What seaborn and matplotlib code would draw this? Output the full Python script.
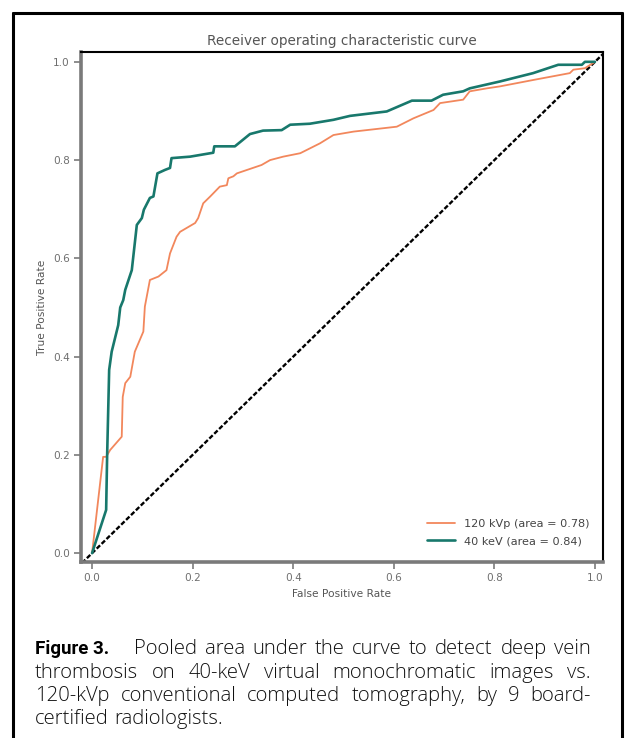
import matplotlib
matplotlib.use("Agg")
import matplotlib.pyplot as plt
from matplotlib.lines import Line2D
import pandas as pd
import seaborn as sns

# --- data ---
fpr_40kev = [0.0, 0.028, 0.030, 0.034, 0.039, 0.052, 0.056, 0.062, 0.066, 0.079, 0.089,
             0.099, 0.103, 0.115, 0.122, 0.130, 0.145, 0.155, 0.158, 0.195, 0.241, 0.243,
             0.284, 0.314, 0.340, 0.377, 0.394, 0.433, 0.480, 0.513, 0.586, 0.636, 0.675,
             0.698, 0.738, 0.751, 0.811, 0.877, 0.927, 0.974, 0.980, 1.0]
tpr_40kev = [0.0, 0.088, 0.20, 0.373, 0.41, 0.464, 0.50, 0.515, 0.536, 0.576, 0.668,
             0.682, 0.699, 0.723, 0.726, 0.773, 0.780, 0.784, 0.804, 0.807, 0.815, 0.828,
             0.828, 0.853, 0.860, 0.861, 0.872, 0.874, 0.882, 0.890, 0.899, 0.921, 0.921,
             0.933, 0.940, 0.946, 0.960, 0.977, 0.994, 0.994, 1.0, 1.0]

fpr_120kvp = [0.0, 0.022, 0.028, 0.036, 0.059, 0.061, 0.066, 0.076, 0.085, 0.102, 0.105,
              0.115, 0.132, 0.148, 0.155, 0.168, 0.175, 0.205, 0.211, 0.221, 0.235, 0.254,
              0.268, 0.271, 0.281, 0.288, 0.337, 0.354, 0.380, 0.414, 0.453, 0.480, 0.520,
              0.606, 0.639, 0.679, 0.692, 0.738, 0.751, 0.785, 0.811, 0.877, 0.950, 0.957,
              0.980, 1.0]
tpr_120kvp = [0.0, 0.196, 0.196, 0.210, 0.237, 0.318, 0.346, 0.359, 0.410, 0.451, 0.502,
              0.556, 0.563, 0.576, 0.610, 0.644, 0.654, 0.672, 0.682, 0.712, 0.726, 0.746,
              0.749, 0.763, 0.767, 0.773, 0.790, 0.800, 0.807, 0.814, 0.834, 0.851, 0.858,
              0.868, 0.885, 0.902, 0.916, 0.923, 0.940, 0.946, 0.950, 0.963, 0.977, 0.984,
              0.987, 1.0]

chance = [-0.02, 1.02]

labels = ["120 kVp (area = 0.78)", "40 keV (area = 0.84)"]
title = "Receiver operating characteristic curve"
x_ticks = [0.0, 0.2, 0.4, 0.6, 0.8, 1.0]
y_ticks = [0.0, 0.2, 0.4, 0.6, 0.8, 1.0]

caption_head = "Figure 3."
caption_lines = [
    "Pooled area under the curve to detect deep vein",
    "thrombosis on 40-keV virtual monochromatic images vs.",
    "120-kVp conventional computed tomography, by 9 board-",
    "certified radiologists.",
]

orange = "#F2875C"
teal = "#18786C"
grey = "#6f6f6f"

sns.set_theme(style="white")
plt.rcParams["font.family"] = ["DejaVu Sans"]

fig = plt.figure(figsize=(6.26, 7.38), dpi=100)
ax = fig.add_axes([81 / 626, 1 - 562 / 738, 522 / 626, 510 / 738])

df_120 = pd.DataFrame({"fpr": fpr_120kvp, "tpr": tpr_120kvp})
df_40 = pd.DataFrame({"fpr": fpr_40kev, "tpr": tpr_40kev})

sns.lineplot(data=df_120, x="fpr", y="tpr", ax=ax, color=orange, lw=1.3,
             estimator=None, sort=False, label=labels[0])
sns.lineplot(data=df_40, x="fpr", y="tpr", ax=ax, color=teal, lw=1.9,
             estimator=None, sort=False, label=labels[1])
ax.plot(chance, chance, color="black", lw=1.7, linestyle=(0, (2.0, 0.9)), zorder=1)

ax.set_xlim(-0.022, 1.016)
ax.set_ylim(-0.018, 1.02)
ax.set_xticks(x_ticks)
ax.set_yticks(y_ticks)
ax.set_xticklabels([f"{t:.1f}" for t in x_ticks])
ax.set_yticklabels([f"{t:.1f}" for t in y_ticks])

for side in ["left", "bottom"]:
    ax.spines[side].set_color("#7a7a7a")
    ax.spines[side].set_linewidth(2.6)
for side in ["top", "right"]:
    ax.spines[side].set_color("black")
    ax.spines[side].set_linewidth(1.5)

ax.tick_params(axis="both", direction="out", length=5, width=1.1, color=grey,
               labelcolor=grey, labelsize=7.6, pad=3, bottom=True, left=True)

ax.set_title(title, fontsize=9.8, color="#555555", pad=5)
ax.set_xlabel("False Positive Rate", fontsize=7.7, color="#555555", labelpad=4)
ax.set_ylabel("True Positive Rate", fontsize=7.7, color="#555555", labelpad=4)

leg = ax.legend(loc="lower right", bbox_to_anchor=(0.985, 0.02), frameon=False,
                fontsize=8.1, handlelength=2.5, handletextpad=0.8, labelspacing=0.6,
                borderpad=0)
for txt in leg.get_texts():
    txt.set_color("#444444")

# outer frame round the whole figure
frame_kw = dict(color="black", lw=2.2, transform=fig.transFigure)
x0, x1 = 12.5 / 626, 621.5 / 626
y_top = 1 - 12.5 / 738
fig.add_artist(Line2D([x0, x0], [0, y_top], **frame_kw))
fig.add_artist(Line2D([x0, x1], [y_top, y_top], **frame_kw))
fig.add_artist(Line2D([x1, x1], [0, y_top], **frame_kw))

# caption, justified by hand
cap_size = 14.6
cap_font = ["Open Sans", "DejaVu Sans"]
left_px, right_px = 35, 591
baselines = [654, 678, 701, 724]
renderer = fig.canvas.get_renderer()

def px_x(v):
    return v / 626

def px_y(v):
    return 1 - v / 738

fig.text(px_x(left_px), px_y(baselines[0]), caption_head, fontsize=13.5,
         fontweight="bold", family=["Roboto", "Liberation Sans"],
         va="baseline", ha="left", color="black")

def place_line(words, start_px, end_px, y_px, justify=True):
    items = [fig.text(0, px_y(y_px), w, fontsize=cap_size, va="baseline", ha="left",
                      family=cap_font, fontweight="light", color="#111111")
             for w in words]
    widths = [t.get_window_extent(renderer).width for t in items]
    if justify and len(words) > 1:
        gap = (end_px - start_px - sum(widths)) / (len(words) - 1)
    else:
        gap = cap_size * 0.4
    x = start_px
    for t, w in zip(items, widths):
        t.set_x(px_x(x))
        x += w + gap

place_line(caption_lines[0].split(), 134, right_px, baselines[0])
place_line(caption_lines[1].split(), left_px, right_px, baselines[1])
place_line(caption_lines[2].split(), left_px, right_px, baselines[2])
place_line(caption_lines[3].split(), left_px, right_px, baselines[3], justify=False)

fig.savefig("out.png", dpi=100)
